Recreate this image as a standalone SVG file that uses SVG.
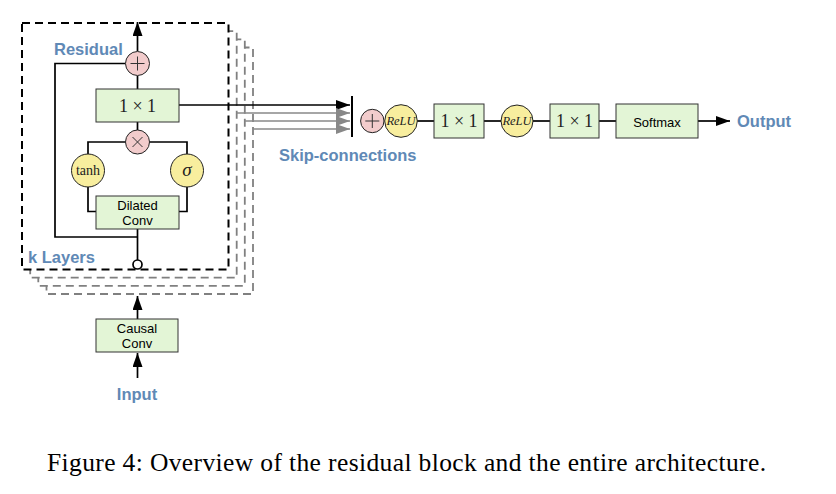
<svg xmlns="http://www.w3.org/2000/svg" width="836" height="494" viewBox="0 0 836 494">
<defs>
<style>
.lbl{font-family:"Liberation Sans",Arial,sans-serif;font-weight:bold;font-size:16.5px;fill:#6089b6}
.box{fill:#e3f5d6;stroke:#333;stroke-width:1}
.pink{fill:#f2cccc;stroke:#222;stroke-width:1}
.yel{fill:#f8ee9e;stroke:#222;stroke-width:1}
.ln{fill:none;stroke:#000;stroke-width:1.7}
.gl{fill:none;stroke:#888;stroke-width:1.7}
.math{font-family:"Liberation Serif","DejaVu Serif",serif;fill:#222}
.sans{font-family:"Liberation Sans",Arial,sans-serif;font-size:13px;fill:#000}
.dk{fill:#fff;stroke:#000;stroke-width:2;stroke-dasharray:8,5}
.dg{fill:#fff;stroke:#808080;stroke-width:1.8;stroke-dasharray:8,5}
</style>
<marker id="abig" viewBox="0 0 14 10" refX="14" refY="5" markerWidth="14" markerHeight="10" markerUnits="userSpaceOnUse" orient="auto"><path d="M0,0 L14,5 L0,10 z" fill="#000"/></marker>
<marker id="agbig" viewBox="0 0 14 10" refX="14" refY="5" markerWidth="14" markerHeight="10" markerUnits="userSpaceOnUse" orient="auto"><path d="M0,0 L14,5 L0,10 z" fill="#888"/></marker>
</defs>
<rect width="836" height="494" fill="#fff"/>

<g id="layer-stack">
<rect class="dg" x="46.5" y="47.5" width="206.5" height="246.5"/>
<rect class="dg" x="38.3" y="39.3" width="206.5" height="246.5"/>
<rect class="dg" x="30.2" y="31.2" width="206.5" height="246.5"/>
<rect class="dk" x="22" y="23" width="206.5" height="246.5"/>
</g>

<g id="connectors">
<line class="ln" x1="137.5" y1="51" x2="137.5" y2="22" marker-end="url(#abig)"/>
<polyline class="ln" points="125.5,63.5 55,63.5 55,237 137.5,237"/>
<line class="ln" x1="137.5" y1="76" x2="137.5" y2="89"/>
<line class="ln" x1="137.5" y1="122" x2="137.5" y2="130"/>
<polyline class="ln" points="125.5,142 88,142 88,154"/>
<polyline class="ln" points="149.5,142 187,142 187,154"/>
<polyline class="ln" points="88,187 88,211.5 96,211.5"/>
<polyline class="ln" points="187,187 187,211.5 179,211.5"/>
<line class="ln" x1="137.5" y1="229" x2="137.5" y2="260"/>
<line class="ln" x1="137.5" y1="319" x2="137.5" y2="296" marker-end="url(#abig)"/>
<line class="ln" x1="137.5" y1="378" x2="137.5" y2="353" marker-end="url(#abig)"/>
<line class="ln" x1="179" y1="105" x2="350" y2="105" marker-end="url(#abig)"/>
<line class="gl" x1="236.5" y1="113" x2="350" y2="113" marker-end="url(#agbig)"/>
<line class="gl" x1="244.8" y1="121" x2="350" y2="121" marker-end="url(#agbig)"/>
<line class="gl" x1="253" y1="129" x2="350" y2="129" marker-end="url(#agbig)"/>
<line x1="352" y1="96" x2="352" y2="137" stroke="#000" stroke-width="2"/>
<line class="ln" x1="417" y1="121" x2="434" y2="121"/>
<line class="ln" x1="484" y1="121" x2="501" y2="121"/>
<line class="ln" x1="533" y1="121" x2="550" y2="121"/>
<line class="ln" x1="599" y1="121" x2="616" y2="121"/>
<line class="ln" x1="698" y1="121" x2="730" y2="121" marker-end="url(#abig)"/>
</g>

<g id="add-residual"><circle class="pink" cx="137.5" cy="63.5" r="12"/><path d="M130.5,63.5 H144.5 M137.5,56.5 V70.5" stroke="#333" stroke-width="1"/></g>
<g id="conv1x1"><rect class="box" x="96" y="89" width="83" height="33"/><text class="math" x="137.5" y="111.5" font-size="18" text-anchor="middle">1 × 1</text></g>
<g id="mult"><circle class="pink" cx="137.5" cy="142" r="12"/><path d="M132.5,137 L142.5,147 M142.5,137 L132.5,147" stroke="#333" stroke-width="1"/></g>
<g id="tanh"><circle class="yel" cx="88" cy="170.5" r="16.5"/><text class="math" x="88" y="175" font-size="14" text-anchor="middle">tanh</text></g>
<g id="sigma"><circle class="yel" cx="187" cy="170.5" r="16.5"/><text class="math" x="187" y="176" font-size="19" font-style="italic" text-anchor="middle">σ</text></g>
<g id="dilated-conv"><rect class="box" x="96" y="196" width="83" height="33"/><text class="sans" x="137.5" y="210" text-anchor="middle">Dilated</text><text class="sans" x="137.5" y="225" text-anchor="middle">Conv</text></g>
<g id="input-node"><circle cx="137.5" cy="264.5" r="4.5" fill="#fff" stroke="#000" stroke-width="1.7"/></g>
<g id="causal-conv"><rect class="box" x="96" y="319" width="82" height="33"/><text class="sans" x="137" y="333" text-anchor="middle">Causal</text><text class="sans" x="137" y="348" text-anchor="middle">Conv</text></g>

<g id="add-skip"><circle class="pink" cx="372.3" cy="121" r="11.7"/><path d="M365.3,121 H379.3 M372.3,114 V128" stroke="#333" stroke-width="1"/></g>
<g id="relu1"><circle class="yel" cx="401" cy="121" r="16.3"/><text class="math" x="401" y="125" font-size="12.5" font-style="italic" text-anchor="middle">ReLU</text></g>
<g id="conv1x1-a"><rect class="box" x="434" y="104" width="50" height="34"/><text class="math" x="459" y="127" font-size="18" text-anchor="middle">1 × 1</text></g>
<g id="relu2"><circle class="yel" cx="517" cy="121" r="16"/><text class="math" x="517" y="125" font-size="12.5" font-style="italic" text-anchor="middle">ReLU</text></g>
<g id="conv1x1-b"><rect class="box" x="550" y="104" width="49" height="34"/><text class="math" x="574.5" y="127" font-size="18" text-anchor="middle">1 × 1</text></g>
<g id="softmax"><rect class="box" x="616" y="104" width="82" height="34"/><text class="sans" x="657" y="126.5" font-size="14.5" text-anchor="middle">Softmax</text></g>

<g id="labels">
<text class="lbl" x="54" y="55">Residual</text>
<text class="lbl" x="28" y="262.5">k Layers</text>
<text class="lbl" x="279" y="161">Skip-connections</text>
<text class="lbl" x="737" y="127">Output</text>
<text class="lbl" x="137" y="400" text-anchor="middle">Input</text>
</g>

<text x="47" y="471" font-family="'Liberation Serif','Times New Roman',serif" font-size="25.5" textLength="719" lengthAdjust="spacing" fill="#000">Figure 4: Overview of the residual block and the entire architecture.</text>
</svg>
